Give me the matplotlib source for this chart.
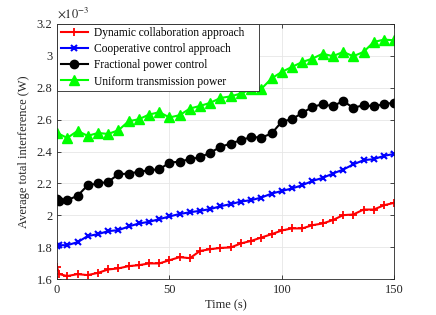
import matplotlib
matplotlib.use('Agg')
import matplotlib.pyplot as plt
from matplotlib.ticker import FormatStrFormatter

plt.rcParams['font.family'] = 'Liberation Serif'
plt.rcParams['mathtext.fontset'] = 'stix'

# time axis (s); red/blue/black series have one extra sample near t=1
time_main = [0, 4.5, 9.1, 13.6, 18.2, 22.7, 27.3, 31.8, 36.4, 40.9, 45.5, 50,
             54.5, 59.1, 63.6, 68.2, 72.7, 77.3, 81.8, 86.4, 90.9, 95.5, 100,
             104.5, 109.1, 113.6, 118.2, 122.7, 127.3, 131.8, 136.4, 140.9, 145.5, 150]
time_ext = [0, 1] + time_main[1:]

# average total interference, x 1e-3 W
dynamic = [1.675, 1.633, 1.621, 1.633, 1.627, 1.641, 1.662, 1.669, 1.683, 1.689,
           1.700, 1.700, 1.720, 1.739, 1.733, 1.778, 1.789, 1.797, 1.800, 1.825,
           1.841, 1.862, 1.883, 1.906, 1.919, 1.919, 1.939, 1.950, 1.971, 2.002,
           2.006, 2.037, 2.037, 2.064, 2.079]
cooperative = [1.810, 1.814, 1.814, 1.833, 1.871, 1.883, 1.902, 1.908, 1.931, 1.950,
               1.960, 1.977, 1.994, 2.009, 2.020, 2.029, 2.040, 2.058, 2.071, 2.087,
               2.096, 2.112, 2.137, 2.153, 2.169, 2.189, 2.216, 2.235, 2.262, 2.287,
               2.319, 2.346, 2.352, 2.373, 2.385]
fractional = [2.102, 2.091, 2.096, 2.123, 2.189, 2.200, 2.210, 2.258, 2.262, 2.273,
              2.283, 2.289, 2.330, 2.337, 2.352, 2.364, 2.393, 2.429, 2.450, 2.471,
              2.491, 2.487, 2.513, 2.587, 2.602, 2.641, 2.679, 2.696, 2.683, 2.716,
              2.673, 2.690, 2.683, 2.696, 2.706]
uniform = [2.516, 2.485, 2.529, 2.498, 2.516, 2.510, 2.533, 2.589, 2.602, 2.631,
           2.646, 2.613, 2.627, 2.669, 2.685, 2.705, 2.735, 2.745, 2.763, 2.790,
           2.792, 2.858, 2.898, 2.929, 2.960, 2.981, 3.012, 2.996, 3.023, 2.996,
           3.023, 3.085, 3.100, 3.096]

labels = ['Dynamic collaboration approach', 'Cooperative control approach',
          'Fractional power control', 'Uniform transmission power']

fig = plt.figure(figsize=(4.36, 3.15), dpi=100)
ax = fig.add_axes([0.131, 0.113, 0.773, 0.812])

ax.plot(time_ext, dynamic, color='red', marker='+', markersize=6, mew=1.3,
        linewidth=1.5, label=labels[0])
ax.plot(time_ext, cooperative, color='blue', marker='x', markersize=4.5, mew=1.5,
        linewidth=1.5, label=labels[1])
ax.plot(time_ext, fractional, color='black', marker='o', markersize=6,
        linewidth=1.5, label=labels[2])
ax.plot(time_main, uniform, color='#00ff00', marker='^', markersize=7,
        linewidth=1.5, label=labels[3])

ax.set_xlim(0, 150)
ax.set_ylim(1.6, 3.2)
ax.set_xticks([0, 50, 100, 150])
ax.set_yticks([1.6, 1.8, 2.0, 2.2, 2.4, 2.6, 2.8, 3.0, 3.2])
ax.yaxis.set_major_formatter(FormatStrFormatter('%g'))
ax.tick_params(direction='in', length=3, width=0.6, labelsize=9, colors='#262626',
               top=True, right=True)
ax.grid(True, color='#e6e6e6', linewidth=0.6)
ax.set_axisbelow(True)
for s in ax.spines.values():
    s.set_color('#262626')
    s.set_linewidth(0.6)

ax.set_xlabel('Time (s)', fontsize=9, color='#262626', labelpad=2)
ax.set_ylabel('Average total interference (W)', fontsize=9, color='#262626', labelpad=5)
ax.text(0.0, 1.01, r'$\times10^{-3}$', transform=ax.transAxes, fontsize=9,
        color='#262626', ha='left', va='bottom')

# MATLAB-like legend box: flush with top-left corner, extra room on the right
leg = ax.legend(loc='upper left', bbox_to_anchor=(0, 0, 0.60, 1), mode='expand',
                fontsize=8.3, frameon=True, fancybox=False, borderaxespad=0,
                handlelength=2.4, borderpad=0.3, labelspacing=0.36,
                handletextpad=0.5)
leg.get_frame().set_edgecolor('#262626')
leg.get_frame().set_linewidth(0.6)
leg.get_frame().set_alpha(1)

fig.savefig('out.png', dpi=100)
